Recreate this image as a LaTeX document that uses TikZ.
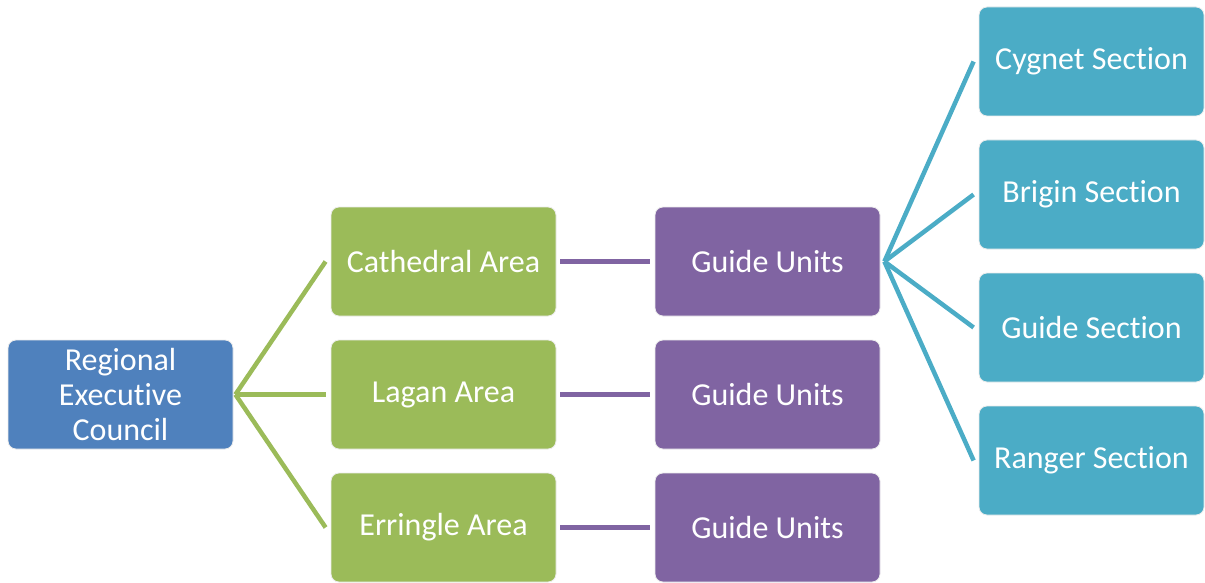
\documentclass[tikz,border=0pt]{standalone}
\usepackage{fontspec}
\setmainfont[Ligatures=NoCommon]{Carlito}
\usepackage{xcolor}
\usetikzlibrary{positioning,calc}
\definecolor{recblue}{HTML}{4F81BD}
\definecolor{areagreen}{HTML}{9BBB59}
\definecolor{unitpurple}{HTML}{8064A2}
\definecolor{secteal}{HTML}{4BACC6}
\begin{document}
\begin{tikzpicture}[
    x=1pt, y=-1pt,
    box/.style={rectangle, draw=white!85!gray, line width=0.8pt, rounded corners=8pt, minimum width=225pt, minimum height=109pt, text=white, align=center, font=\fontsize{32}{35}\selectfont, inner sep=0pt},
    link/.style={line width=4.5pt}
]
    \useasboundingbox (0,0) rectangle (1205,583);

    % Council
    \node[box, fill=recblue] (council) at (120.5,394.5) {Regional\\Executive\\Council};

    % Areas
    \node[box, fill=areagreen] (cathedral) at (443.5,261.5) {Cathedral Area};
    \node[box, fill=areagreen] (lagan) at (443.5,394.5) {Lagan Area};
    \node[box, fill=areagreen] (erringle) at (443.5,527.5) {Erringle Area};

    % Guide units
    \node[box, fill=unitpurple] (unitsA) at (767.5,261.5) {Guide Units};
    \node[box, fill=unitpurple] (unitsB) at (767.5,394.5) {Guide Units};
    \node[box, fill=unitpurple] (unitsC) at (767.5,527.5) {Guide Units};

    % Sections
    \node[box, fill=secteal] (cygnet) at (1091.5,61.5) {Cygnet Section};
    \node[box, fill=secteal] (brigin) at (1091.5,194.5) {Brigin Section};
    \node[box, fill=secteal] (guide) at (1091.5,327.5) {Guide Section};
    \node[box, fill=secteal] (ranger) at (1091.5,460.5) {Ranger Section};

    % Council to areas
    \foreach \n in {cathedral,lagan,erringle}
        \draw[link, areagreen] ([xshift=2pt]council.east) -- ([xshift=-5pt]\n.west);

    % Areas to units
    \draw[link, unitpurple] ([xshift=4pt]cathedral.east) -- ([xshift=-5pt]unitsA.west);
    \draw[link, unitpurple] ([xshift=4pt]lagan.east) -- ([xshift=-5pt]unitsB.west);
    \draw[link, unitpurple] ([xshift=4pt]erringle.east) -- ([xshift=-5pt]unitsC.west);

    % Units to sections
    \foreach \n in {cygnet,brigin,guide,ranger}
        \draw[link, secteal] ([xshift=4pt]unitsA.east) -- ([xshift=-5pt]\n.west);
\end{tikzpicture}
\end{document}
